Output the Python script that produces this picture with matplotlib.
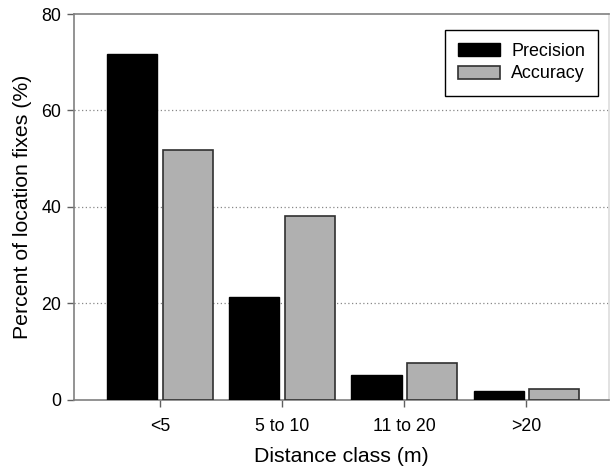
import numpy as np
import matplotlib
matplotlib.use('Agg')
import matplotlib.pyplot as plt

categories = ['<5', '5 to 10', '11 to 20', '>20']
precision = [71.7, 21.3, 5.2, 1.9]
accuracy = [51.8, 38.2, 7.6, 2.3]

plt.rcParams['font.family'] = ['Liberation Sans', 'DejaVu Sans']

fig = plt.figure(figsize=(6.11, 4.68), dpi=100)
ax = fig.add_axes([0.121, 0.146, 0.876, 0.824])

x = np.arange(len(categories))
w = 0.41
off = 0.226
ax.bar(x - off, precision, w, color='black', edgecolor='black', linewidth=1,
       label='Precision', zorder=3)
ax.bar(x + off, accuracy, w, color='#b0b0b0', edgecolor='#303030', linewidth=1.2,
       label='Accuracy', zorder=3)

ax.set_xlim(-0.705, 3.68)
ax.set_ylim(0, 80)
ax.set_xticks(x)
ax.set_xticklabels(categories)
ax.set_yticks([0, 20, 40, 60, 80])
for v in [20, 40, 60]:
    ax.axhline(v, color='#888888', linestyle=(0, (1, 2)), linewidth=0.9, zorder=1)

for s in ax.spines.values():
    s.set_color('#808080')
    s.set_linewidth(1.2)
ax.spines['right'].set_color('#dddddd')
ax.tick_params(axis='both', colors='#606060', length=5, width=1, labelsize=12.8,
               labelcolor='black')
ax.tick_params(axis='x', pad=8)
ax.tick_params(axis='y', pad=4)

ax.set_xlabel('Distance class (m)', fontsize=15.3, labelpad=9)
ax.set_ylabel('Percent of location fixes (%)', fontsize=15.3, labelpad=7)

leg = ax.legend(loc='upper right', bbox_to_anchor=(0.9965, 0.983), fontsize=12.9,
                fancybox=False, framealpha=1, edgecolor='black',
                handlelength=2.35, handleheight=0.75, borderpad=0.75,
                labelspacing=0.3, handletextpad=0.6)
leg.get_frame().set_linewidth(1.0)

fig.savefig('out.png', dpi=100)
